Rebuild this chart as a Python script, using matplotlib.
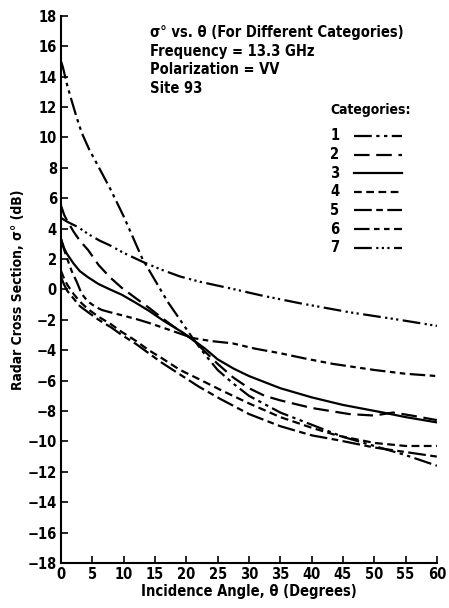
import numpy as np
import matplotlib.pyplot as plt

# sigma0 (dB) vs incidence angle
x1 = [0, 0.3, 1, 1.7, 2.5, 3.3, 4.5, 6.2, 8, 10, 13, 15, 17, 19, 21, 23, 25, 27.5, 30, 35, 40, 45, 50, 55, 60]
y1 = [15, 14.6, 13.4, 12.4, 11.3, 10.3, 9.2, 7.9, 6.5, 4.8, 2.0, 0.6, -0.8, -2.0, -3.2, -4.3, -5.3, -6.2, -7.0, -8.1, -8.9, -9.7, -10.3, -10.9, -11.6]
x2 = [0, 0.5, 1, 2, 3, 4.3, 6, 7.8, 9.7, 12, 14, 16.5, 18.5, 21, 23, 25, 27.5, 30, 32.5, 35, 40, 46, 50, 53, 56, 60]
y2 = [5.5, 4.9, 4.5, 3.8, 3.2, 2.6, 1.6, 0.8, 0.1, -0.6, -1.2, -2.0, -2.6, -3.3, -4.1, -4.9, -5.8, -6.5, -7.0, -7.3, -7.8, -8.2, -8.3, -8.1, -8.3, -8.6]
x3 = [0, 0.5, 1, 2, 3, 4.3, 6, 7.8, 9.7, 12, 14, 16.5, 19.3, 21, 23, 25, 27.5, 30, 35, 40, 45, 51.4, 55, 60]
y3 = [3.3, 2.7, 2.3, 1.7, 1.2, 0.8, 0.35, 0.0, -0.35, -0.9, -1.4, -2.1, -2.8, -3.3, -3.9, -4.6, -5.2, -5.7, -6.5, -7.1, -7.6, -8.1, -8.4, -8.75]
x4 = [0, 0.5, 1, 2, 3, 4.3, 6, 8, 9.7, 12, 14, 16, 19, 22, 25.4, 30, 35, 40, 44, 50, 55, 60]
y4 = [1.2, 0.7, 0.3, -0.3, -0.8, -1.3, -1.8, -2.3, -2.8, -3.4, -4.0, -4.5, -5.3, -5.9, -6.6, -7.5, -8.4, -9.1, -9.6, -10.1, -10.3, -10.3]
x5 = [0, 0.5, 1, 2, 3, 4.3, 6, 8, 9.7, 12, 14, 16, 19, 22, 25.4, 30, 35, 40, 44, 50, 55, 60]
y5 = [0.8, 0.3, -0.1, -0.6, -1.1, -1.5, -2.0, -2.5, -3.0, -3.6, -4.2, -4.8, -5.6, -6.4, -7.2, -8.2, -9.0, -9.6, -9.9, -10.4, -10.7, -11.0]
x6 = [0, 0.5, 1, 1.7, 2.5, 3.3, 4.3, 5.5, 6.5, 7.8, 9.7, 12, 14, 16.5, 19.3, 21, 24, 27.4, 31, 35, 39, 43.4, 50, 55, 60]
y6 = [3.3, 2.6, 2.0, 1.2, 0.5, -0.3, -0.8, -1.15, -1.35, -1.5, -1.7, -1.95, -2.2, -2.55, -2.95, -3.2, -3.4, -3.55, -3.9, -4.2, -4.55, -4.9, -5.3, -5.55, -5.7]
x7 = [0, 1, 2.7, 4.5, 6.2, 7.8, 10, 13.1, 16, 19, 22.2, 27, 32, 38, 42, 46, 50, 54, 57, 60]
y7 = [4.7, 4.45, 4.1, 3.6, 3.2, 2.9, 2.4, 1.8, 1.3, 0.85, 0.5, 0.07, -0.4, -0.9, -1.2, -1.5, -1.75, -2.0, -2.2, -2.4]

styles = {
    1: (0, (8, 2, 1.5, 2, 1.5, 2)),
    2: (0, (7, 3)),
    3: '-',
    4: (0, (3.5, 2)),
    5: (0, (8, 2, 3, 2)),
    6: (0, (7, 2, 2.5, 2, 2.5, 2)),
    7: (0, (8, 2, 1, 1.5, 1, 1.5, 1, 2)),
}

font = dict(family='DejaVu Sans', fontweight='bold', fontstretch='condensed')

fig = plt.figure(figsize=(4.49, 6.08), dpi=100)
ax = fig.add_axes([0.136, 0.074, 0.837, 0.9])

for k, (xs, ys) in enumerate([(x1, y1), (x2, y2), (x3, y3), (x4, y4), (x5, y5), (x6, y6), (x7, y7)], start=1):
    ax.plot(xs, ys, color='black', lw=1.6, linestyle=styles[k])

ax.set_xlim(0, 60)
ax.set_ylim(-18, 18)
ax.set_xticks(range(0, 61, 5))
ax.set_yticks(range(-18, 19, 2))
ax.spines['top'].set_visible(False)
ax.spines['right'].set_visible(False)
ax.spines['left'].set_linewidth(1.5)
ax.spines['bottom'].set_linewidth(1.5)
ax.tick_params(direction='in', length=5, width=1.2, pad=3)
for lab in ax.get_xticklabels() + ax.get_yticklabels():
    lab.set_fontsize(10.5)
    lab.set_fontweight('bold')
    lab.set_fontstretch('condensed')

ax.set_xlabel('Incidence Angle, θ (Degrees)', fontsize=10.5, labelpad=1, **font)
ax.set_ylabel('Radar Cross Section, σ° (dB)', fontsize=10, labelpad=2, **font)

# title block
title_lines = ['σ° vs. θ (For Different Categories)', 'Frequency = 13.3 GHz',
               'Polarization = VV', 'Site 93']
for i, t in enumerate(title_lines):
    fig.text(150 / 449, 1 - (33 + i * 18.5) / 608, t, fontsize=10.5, va='center', ha='left', **font)

# legend drawn by hand
fig.text(330 / 449, 1 - 110 / 608, 'Categories:', fontsize=10, va='center', ha='left', **font)
for k in range(1, 8):
    yy = 1 - (136 + (k - 1) * 18.6) / 608
    fig.text(335 / 449, yy, str(k), fontsize=10.5, va='center', ha='center', **font)
    fig.add_artist(plt.Line2D([354 / 449, 402 / 449], [yy, yy], color='black', lw=1.6,
                              linestyle=styles[k], transform=fig.transFigure))

fig.savefig('out.png', dpi=100)
